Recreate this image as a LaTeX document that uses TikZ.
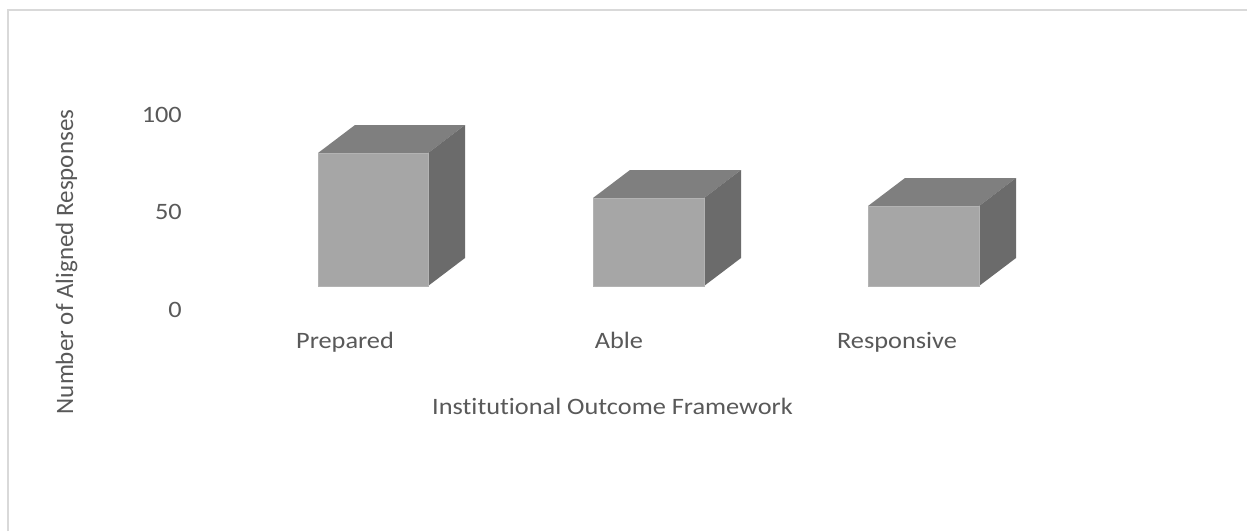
\documentclass[tikz,border=0pt]{standalone}
\usepackage{fontspec}
\setmainfont[Ligatures=NoCommon]{Carlito}
\newfontfamily\widefont[FakeStretch=1.12,Ligatures=NoCommon]{Carlito}
\begin{document}
\begin{tikzpicture}[x=1pt,y=-1pt,
  lbl/.style={font=\widefont\fontsize{23.5}{26}\selectfont, text=txtgray, inner sep=0pt},
  ylbl/.style={font=\fontsize{25}{28}\selectfont, text=txtgray, inner sep=0pt, text height=17pt, text depth=5pt},
  front/.style={fill=frontgray, draw=frontgray!85!white, line width=0.6pt},
  topface/.style={fill=topgray},
  sideface/.style={fill=sidegray}]
\definecolor{txtgray}{HTML}{595959}
\definecolor{frontgray}{HTML}{A6A6A6}
\definecolor{topgray}{HTML}{7F7F7F}
\definecolor{sidegray}{HTML}{6B6B6B}
\definecolor{bordergray}{HTML}{D9D9D9}
\useasboundingbox (0,0) rectangle (1247,531);
\fill[white] (0,0) rectangle (1247,531);
\draw[bordergray, line width=2pt] (8,531) -- (8,10) -- (1247,10);
% bars: front left, front right, top, bottom; depth dx=37, dy=-28
\foreach \l/\r/\t/\n in {318/428/153/a, 593/704/198/b, 868/979/206/c}{
  \fill[topface] (\l,\t) -- (\l+37,\t-28) -- (\r+37,\t-28) -- (\r,\t) -- cycle;
  \fill[sideface] (\r,\t) -- (\r+37,\t-28) -- (\r+37,258) -- (\r,286) -- cycle;
  \filldraw[front] (\l,\t) rectangle (\r,286);
}
% tick labels
\node[lbl, anchor=base east] (t100) at (182,122) {100};
\node[lbl, anchor=base east] (t50) at (182,219) {50};
\node[lbl, anchor=base east] (t0) at (182,317) {0};
% category labels
\node[lbl, anchor=base] (cp) at (345,348) {Prepared};
\node[lbl, anchor=base] (ca) at (619,348) {Able};
\node[lbl, anchor=base] (cr) at (897,348) {Responsive};
% axis titles
\node[lbl, anchor=base west] (xt) at (432,414) {Institutional Outcome Framework};
\node[ylbl, rotate=90] (yt) at (67,262) {Number of Aligned Responses};
\end{tikzpicture}
\end{document}
